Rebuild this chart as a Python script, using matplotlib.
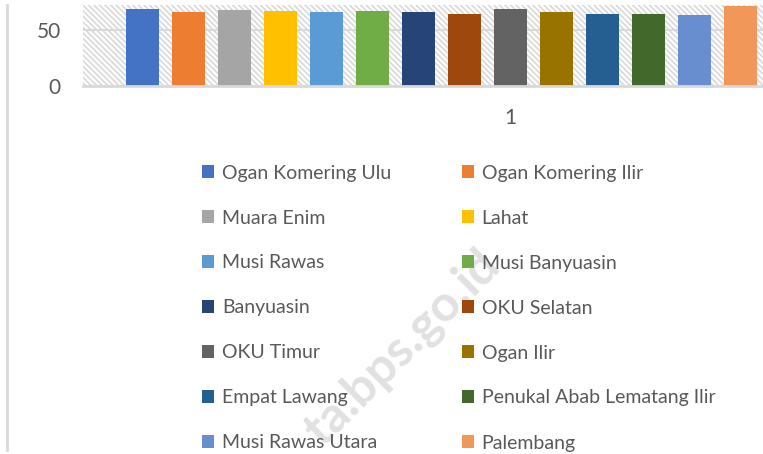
import matplotlib.pyplot as plt
import matplotlib.patches as mpatches
from matplotlib.lines import Line2D

plt.rcParams['font.family'] = ['Lato', 'DejaVu Sans']
plt.rcParams['hatch.linewidth'] = 1.2

regions = ['Ogan Komering Ulu', 'Ogan Komering Ilir', 'Muara Enim', 'Lahat',
           'Musi Rawas', 'Musi Banyuasin', 'Banyuasin', 'OKU Selatan',
           'OKU Timur', 'Ogan Ilir', 'Empat Lawang', 'Penukal Abab Lematang Ilir',
           'Musi Rawas Utara', 'Palembang']
values = [68.7, 66.1, 67.9, 67.0, 66.1, 67.0, 66.1, 64.3,
          68.7, 66.1, 64.3, 64.3, 63.4, 71.4]
colors = ['#4472C4', '#ED7D31', '#A5A5A5', '#FFC000', '#5B9BD5', '#70AD47',
          '#264478', '#9E480E', '#636363', '#997300', '#255E91', '#43682B',
          '#698ED0', '#F1975A']
category = ['1']
n_slots = 17  # the full series runs past the right edge of the picture

W, H = 763, 454
fig = plt.figure(figsize=(W / 100, H / 100), dpi=100)

# plot area: left 83px, bottom 86px from top, top 5px, width 855px
ax = fig.add_axes([83 / W, 1 - 86 / H, 855 / W, 81 / H])
ax.set_facecolor('white')
ax.add_patch(mpatches.Rectangle((0, 0), 1, 1, transform=ax.transAxes,
                                facecolor='white', edgecolor='#d9d9d9',
                                hatch='\\\\\\\\\\\\', linewidth=0, zorder=0))

half = (n_slots - 1) / 2
handles = []
for i, (name, v, c) in enumerate(zip(regions, values, colors)):
    b = ax.bar(i - half, v, width=33 / 46, color=c, label=name, zorder=3)
    handles.append(b)

ax.set_xlim(-855 / 46 / 2, 855 / 46 / 2)
ax.set_ylim(0, 81 / 1.12)
ax.set_yticks([0, 50])
ax.set_xticks([0])
ax.set_xticklabels(category)
ax.yaxis.grid(True, color='#d9d9d9', linewidth=1.5, zorder=1)
ax.set_axisbelow(True)
for s in ['top', 'right', 'left']:
    ax.spines[s].set_visible(False)
ax.spines['bottom'].set_color('#d9d9d9')
ax.spines['bottom'].set_linewidth(2)
ax.spines['bottom'].set_zorder(4)
ax.tick_params(axis='both', length=0, labelsize=15, labelcolor='#595959')
ax.tick_params(axis='y', pad=16)
ax.tick_params(axis='x', pad=16)

# legend, Excel-style row-major order in two columns
order = list(range(0, 14, 2)) + list(range(1, 14, 2))
fig.legend([handles[i] for i in order], [regions[i] for i in order],
           ncol=2, loc='upper left', bbox_to_anchor=(202 / W, 1 - 164.5 / H),
           frameon=False, fontsize=14, labelcolor='#595959',
           handlelength=0.62, handleheight=0.62, handletextpad=0.41,
           labelspacing=1.44, columnspacing=3.62, borderpad=0, borderaxespad=0)

# chart border on the left
fig.add_artist(Line2D([7 / W, 7 / W], [1 - 5 / H, 1 - 450 / H],
                      color='#d9d9d9', linewidth=2))

# watermark
fig.text(492 / W, 1 - 258 / H, 'ta.bps.go.id', rotation=45,
         rotation_mode='anchor', ha='right', va='center', fontsize=36,
         fontweight='bold', color='#dadada', alpha=0.8, zorder=0)

fig.savefig('out.png', dpi=100)
